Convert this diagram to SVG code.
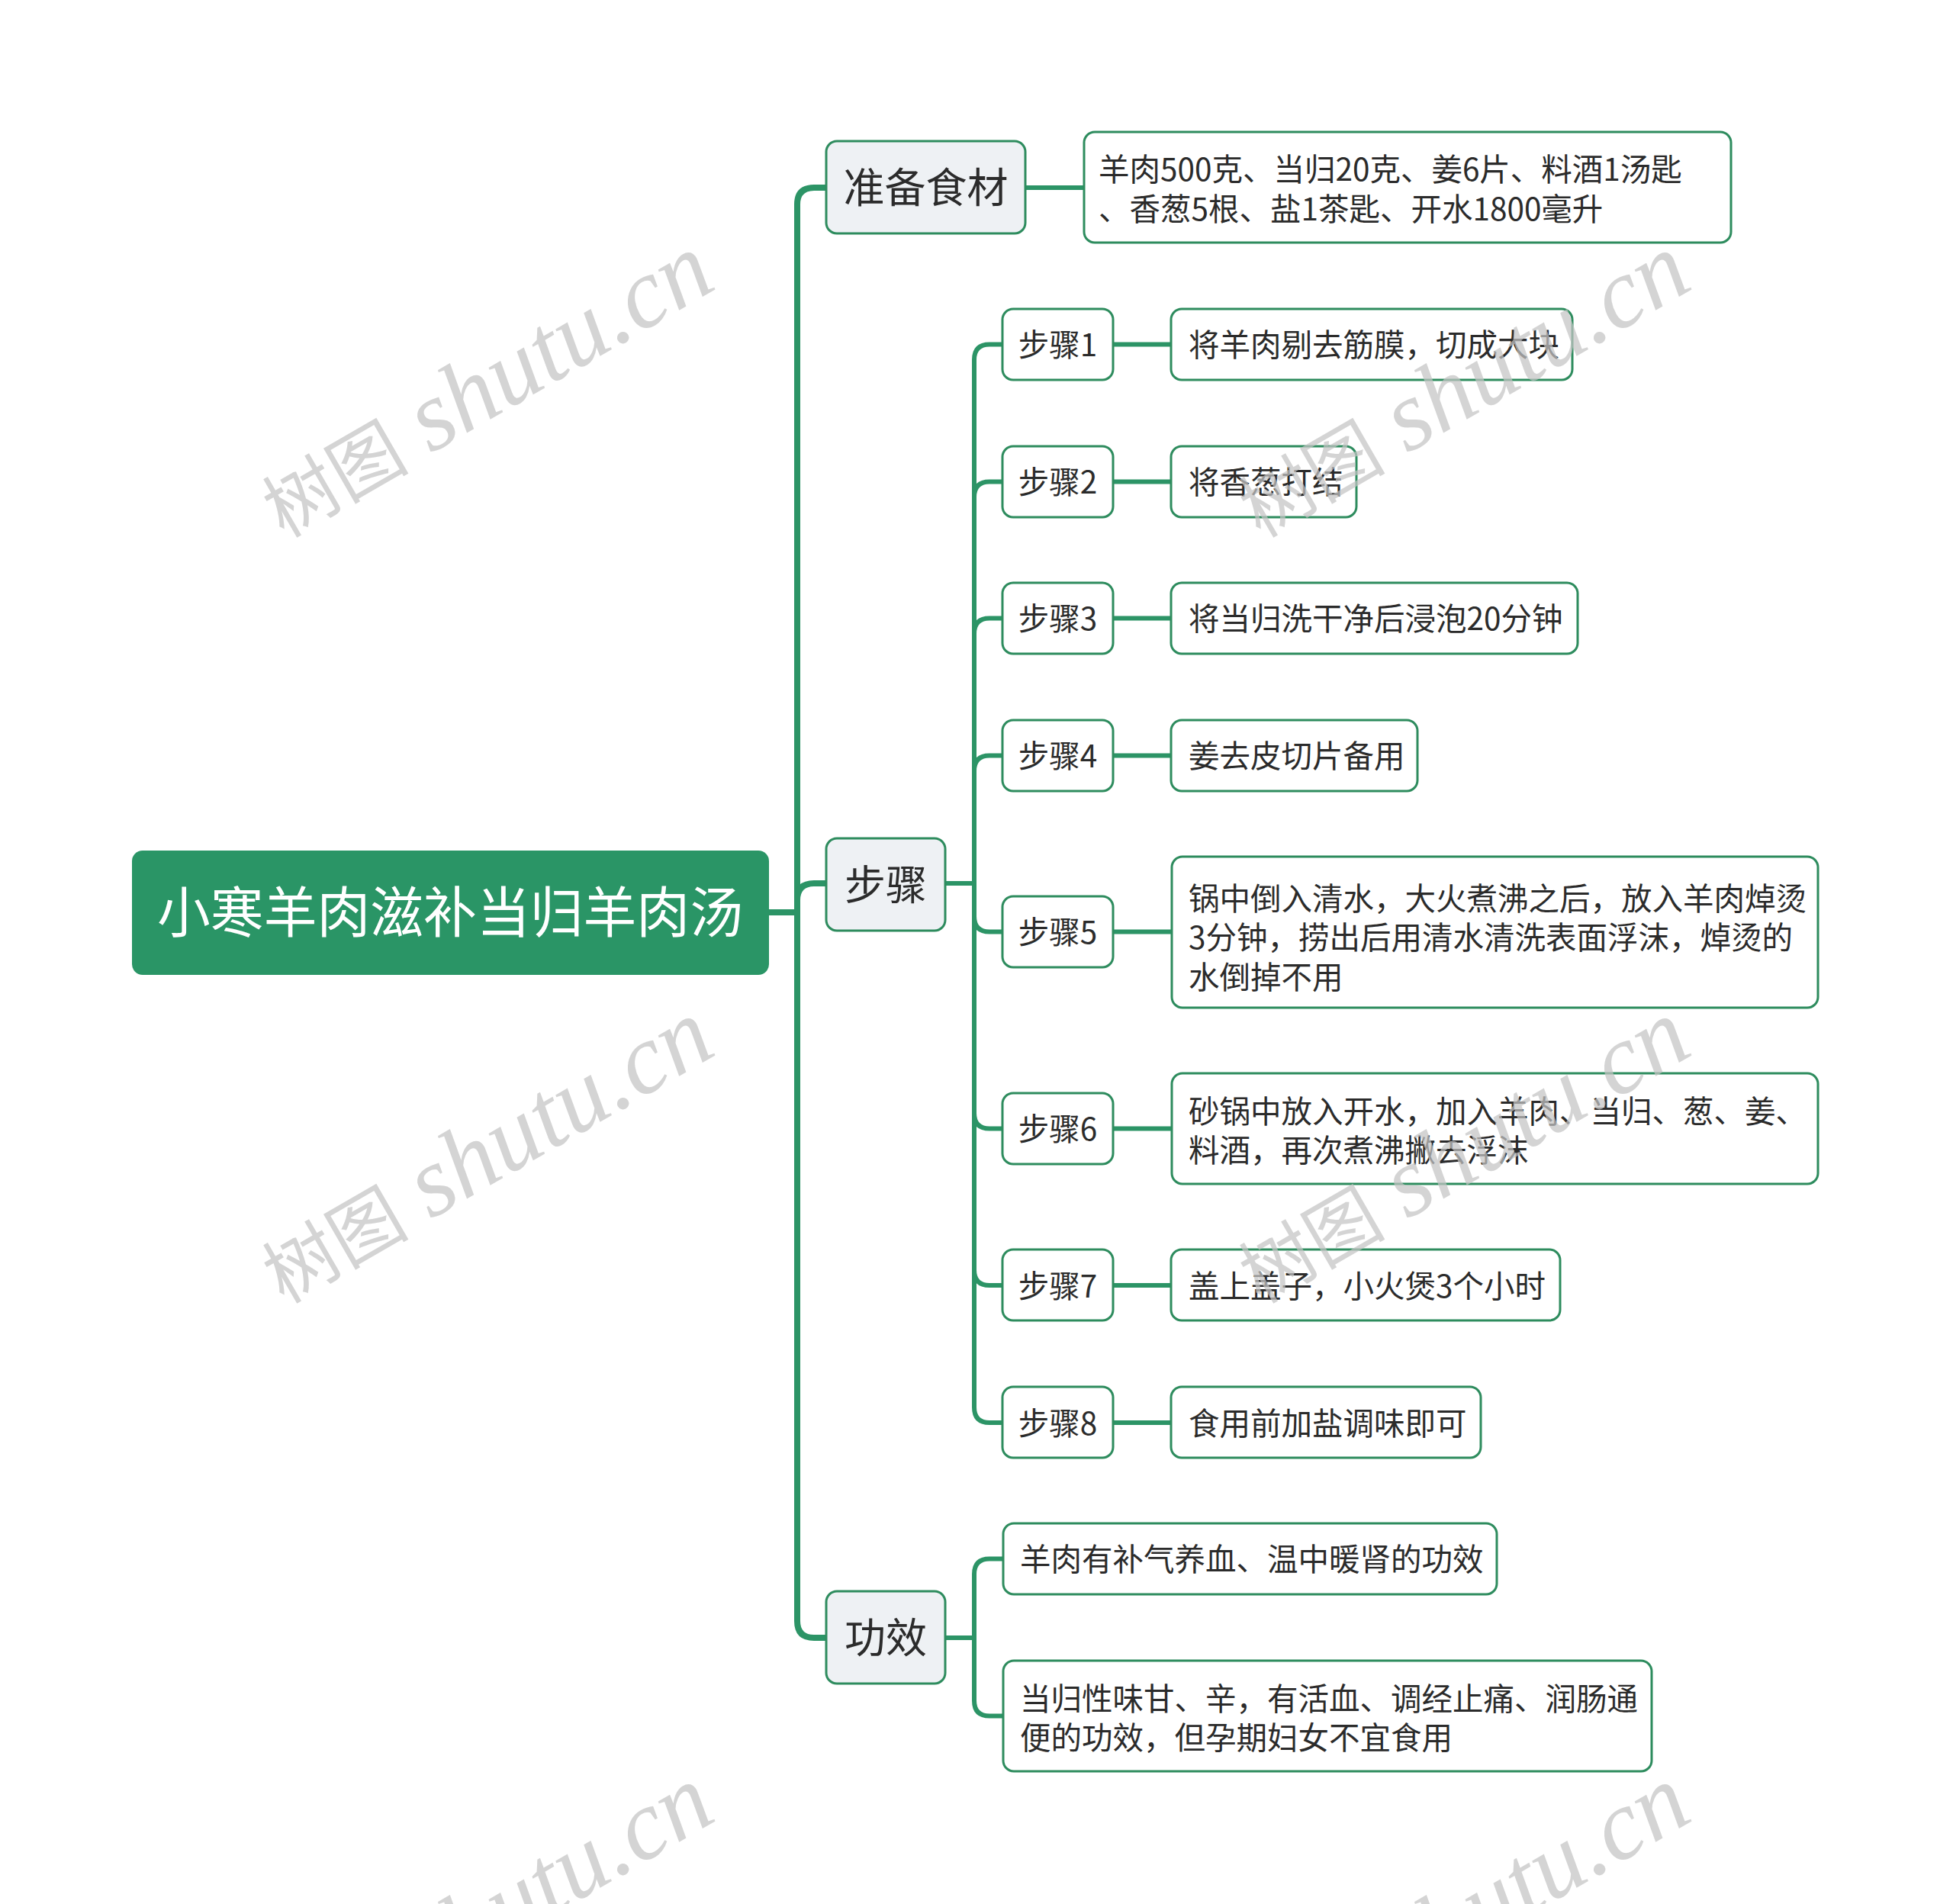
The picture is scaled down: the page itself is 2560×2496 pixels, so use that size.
<svg xmlns="http://www.w3.org/2000/svg" width="2560" height="2496" viewBox="0 0 2560 2496">
<style>
.bg{fill:#ffffff}
.root{fill:#2a9566}
.l1{fill:#eef1f4;stroke:#2e8c5e;stroke-width:3}
.l2{fill:#ffffff;stroke:#2e8c5e;stroke-width:3}
.c1{fill:none;stroke:#2c9466;stroke-width:8;stroke-linecap:butt}
.c2{fill:none;stroke:#2c9466;stroke-width:6;stroke-linecap:butt}
text{font-family:"Noto Sans CJK SC","Noto Sans",sans-serif;fill:#2b2b2b}
.tr{font-size:72px;fill:#ffffff;text-anchor:middle}
.t1{font-size:54px;text-anchor:middle}
.t2{font-size:40.5px}
.tc{text-anchor:middle}
.wm text{fill:#c4c4c4;fill-opacity:0.72}
.wmc{font-family:"Liberation Serif","Noto Sans CJK SC",serif;font-size:96px}
.wml{font-family:"Liberation Serif",serif;font-style:italic;font-size:130px}
</style>
<rect class="bg" x="0" y="0" width="2560" height="2496"/>

<g id="connectors">
  <path class="c1" d="M1008,1196 H1049"/>
  <path class="c1" d="M1083,246 H1067 Q1045,246 1045,268 V2125 Q1045,2147 1067,2147 H1083"/>
  <path class="c1" d="M1045,1180 Q1045,1158 1067,1158 H1083"/>
  <path class="c2" d="M1344,246 H1421"/>
  <path class="c2" d="M1239,1158 H1280"/>
  <path class="c2" d="M1314,451.5 H1297 Q1277,451.5 1277,471.5 V1845 Q1277,1865 1297,1865 H1314"/>
  <path class="c2" d="M1277,651.5 Q1277,631.5 1297,631.5 H1314"/>
  <path class="c2" d="M1277,830.5 Q1277,810.5 1297,810.5 H1314"/>
  <path class="c2" d="M1277,1010.5 Q1277,990.5 1297,990.5 H1314"/>
  <path class="c2" d="M1277,1201.5 Q1277,1221.5 1297,1221.5 H1314"/>
  <path class="c2" d="M1277,1459.5 Q1277,1479.5 1297,1479.5 H1314"/>
  <path class="c2" d="M1277,1665 Q1277,1685 1297,1685 H1314"/>
  <path class="c2" d="M1459,451.5 H1535"/>
  <path class="c2" d="M1459,631.5 H1535"/>
  <path class="c2" d="M1459,810.5 H1535"/>
  <path class="c2" d="M1459,990.5 H1535"/>
  <path class="c2" d="M1459,1221.5 H1536"/>
  <path class="c2" d="M1459,1479.5 H1536"/>
  <path class="c2" d="M1459,1685 H1535"/>
  <path class="c2" d="M1459,1865 H1535"/>
  <path class="c2" d="M1239,2147 H1280"/>
  <path class="c2" d="M1315,2043.5 H1297 Q1277,2043.5 1277,2063.5 V2229.5 Q1277,2249.5 1297,2249.5 H1315"/>
</g>

<g id="root">
  <rect class="root" x="173" y="1115" width="835" height="163" rx="14"/>
  <text class="tr" x="590" y="1222" textLength="768" lengthAdjust="spacingAndGlyphs">小寒羊肉滋补当归羊肉汤</text>
</g>

<g id="n-ingredients">
  <rect class="l1" x="1083" y="185" width="261" height="121" rx="14"/>
  <text class="t1" x="1213.5" y="266">准备食材</text>
</g>
<g id="n-ingredients-detail">
  <rect class="l2" x="1421" y="173" width="848" height="145" rx="14"/>
  <text class="t2" x="1440" y="236.5">羊肉500克、当归20克、姜6片、料酒1汤匙</text>
  <text class="t2" x="1440" y="288.5">、香葱5根、盐1茶匙、开水1800毫升</text>
</g>

<g id="n-steps">
  <rect class="l1" x="1083" y="1099" width="156" height="121" rx="14"/>
  <text class="t1" x="1161" y="1180">步骤</text>
</g>

<g id="n-step1">
  <rect class="l2" x="1314" y="405" width="145" height="93" rx="14"/>
  <text class="t2 tc" x="1386.5" y="467">步骤1</text>
</g>
<g id="n-step1-detail">
  <rect class="l2" x="1535" y="405" width="526" height="93" rx="14"/>
  <text class="t2" x="1558" y="467">将羊肉剔去筋膜，切成大块</text>
</g>

<g id="n-step2">
  <rect class="l2" x="1314" y="585" width="145" height="93" rx="14"/>
  <text class="t2 tc" x="1386.5" y="647">步骤2</text>
</g>
<g id="n-step2-detail">
  <rect class="l2" x="1535" y="585" width="243" height="93" rx="14"/>
  <text class="t2" x="1558" y="647">将香葱打结</text>
</g>

<g id="n-step3">
  <rect class="l2" x="1314" y="764" width="145" height="93" rx="14"/>
  <text class="t2 tc" x="1386.5" y="826">步骤3</text>
</g>
<g id="n-step3-detail">
  <rect class="l2" x="1535" y="764" width="533" height="93" rx="14"/>
  <text class="t2" x="1558" y="826">将当归洗干净后浸泡20分钟</text>
</g>

<g id="n-step4">
  <rect class="l2" x="1314" y="944" width="145" height="93" rx="14"/>
  <text class="t2 tc" x="1386.5" y="1006">步骤4</text>
</g>
<g id="n-step4-detail">
  <rect class="l2" x="1535" y="944" width="323" height="93" rx="14"/>
  <text class="t2" x="1558" y="1006">姜去皮切片备用</text>
</g>

<g id="n-step5">
  <rect class="l2" x="1314" y="1175" width="145" height="93" rx="14"/>
  <text class="t2 tc" x="1386.5" y="1237">步骤5</text>
</g>
<g id="n-step5-detail">
  <rect class="l2" x="1536" y="1123" width="847" height="198" rx="14"/>
  <text class="t2" x="1558" y="1192.5">锅中倒入清水，大火煮沸之后，放入羊肉焯烫</text>
  <text class="t2" x="1558" y="1244">3分钟，捞出后用清水清洗表面浮沫，焯烫的</text>
  <text class="t2" x="1558" y="1295.5">水倒掉不用</text>
</g>

<g id="n-step6">
  <rect class="l2" x="1314" y="1433" width="145" height="93" rx="14"/>
  <text class="t2 tc" x="1386.5" y="1495">步骤6</text>
</g>
<g id="n-step6-detail">
  <rect class="l2" x="1536" y="1407" width="847" height="145" rx="14"/>
  <text class="t2" x="1558" y="1472">砂锅中放入开水，加入羊肉、当归、葱、姜、</text>
  <text class="t2" x="1558" y="1523">料酒，再次煮沸撇去浮沫</text>
</g>

<g id="n-step7">
  <rect class="l2" x="1314" y="1638" width="145" height="93" rx="14"/>
  <text class="t2 tc" x="1386.5" y="1700.5">步骤7</text>
</g>
<g id="n-step7-detail">
  <rect class="l2" x="1535" y="1638" width="510" height="93" rx="14"/>
  <text class="t2" x="1558" y="1700.5">盖上盖子，小火煲3个小时</text>
</g>

<g id="n-step8">
  <rect class="l2" x="1314" y="1818" width="145" height="93" rx="14"/>
  <text class="t2 tc" x="1386.5" y="1880.5">步骤8</text>
</g>
<g id="n-step8-detail">
  <rect class="l2" x="1535" y="1818" width="406" height="93" rx="14"/>
  <text class="t2" x="1558" y="1880.5">食用前加盐调味即可</text>
</g>

<g id="n-effect">
  <rect class="l1" x="1083" y="2086" width="156" height="121" rx="14"/>
  <text class="t1" x="1161" y="2167">功效</text>
</g>
<g id="n-effect1">
  <rect class="l2" x="1315" y="1997" width="647" height="93" rx="14"/>
  <text class="t2" x="1337" y="2059">羊肉有补气养血、温中暖肾的功效</text>
</g>
<g id="n-effect2">
  <rect class="l2" x="1315" y="2177" width="850" height="145" rx="14"/>
  <text class="t2" x="1337" y="2241.5">当归性味甘、辛，有活血、调经止痛、润肠通</text>
  <text class="t2" x="1337" y="2292.5">便的功效，但孕期妇女不宜食用</text>
</g>

<g id="watermarks" class="wm">
  <g transform="translate(372,706) rotate(-30)"><text class="wmc">树图</text><text class="wml" x="222">shutu.cn</text></g>
  <g transform="translate(1652,706) rotate(-30)"><text class="wmc">树图</text><text class="wml" x="222">shutu.cn</text></g>
  <g transform="translate(372,1710) rotate(-30)"><text class="wmc">树图</text><text class="wml" x="222">shutu.cn</text></g>
  <g transform="translate(1652,1710) rotate(-30)"><text class="wmc">树图</text><text class="wml" x="222">shutu.cn</text></g>
  <g transform="translate(372,2714) rotate(-30)"><text class="wmc">树图</text><text class="wml" x="222">shutu.cn</text></g>
  <g transform="translate(1652,2714) rotate(-30)"><text class="wmc">树图</text><text class="wml" x="222">shutu.cn</text></g>
</g>
</svg>
